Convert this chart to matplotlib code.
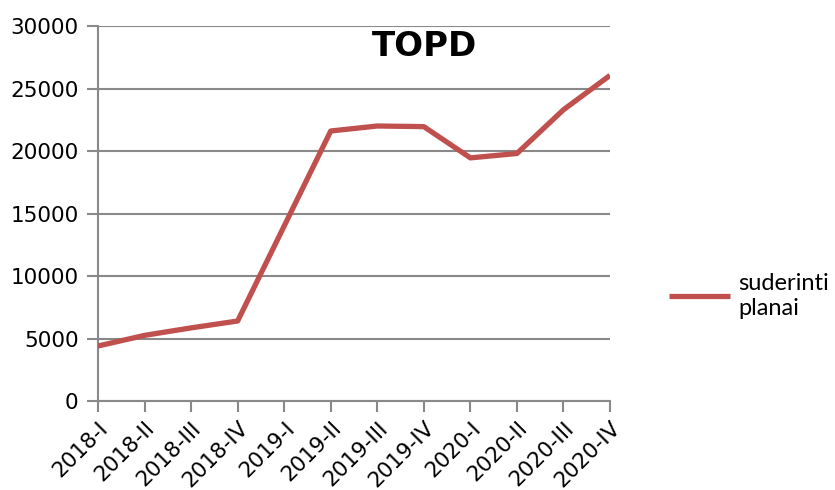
import matplotlib
matplotlib.use("Agg")
import matplotlib.pyplot as plt

categories = ["2018-I", "2018-II", "2018-III", "2018-IV", "2019-I", "2019-II",
              "2019-III", "2019-IV", "2020-I", "2020-II", "2020-III", "2020-IV"]
values = [4400, 5250, 5850, 6400, 14000, 21600, 22000, 21950, 19450, 19800, 23300, 26050]
series_name = "suderinti\nplanai"
title = "TOPD"
yticks = [0, 5000, 10000, 15000, 20000, 25000, 30000]

fig = plt.figure(figsize=(8.35, 4.9), dpi=100)
ax = fig.add_axes([98/835, 1-401/490, (610-98)/835, (401-26)/490])

grid_c = "#898989"
x = list(range(len(categories)))
ax.plot(x, values, color="#C0504D", lw=3.8, label=series_name, solid_capstyle="butt", zorder=3)

ax.set_xlim(0, len(categories)-1)
ax.set_ylim(0, 30000)
ax.set_yticks(yticks)
ax.set_yticklabels([str(v) for v in yticks], fontsize=15.5, family="DejaVu Sans")
ax.set_xticks(x)
ax.set_xticklabels(categories, rotation=45, ha="right", rotation_mode="anchor",
                   fontsize=15.5, family="DejaVu Sans")
ax.yaxis.grid(True, color=grid_c, lw=1.5)
ax.set_axisbelow(True)
for s in ["top", "right"]:
    ax.spines[s].set_visible(False)
for s in ["left", "bottom"]:
    ax.spines[s].set_color(grid_c)
    ax.spines[s].set_linewidth(1.5)
ax.tick_params(axis="both", length=8, width=1.5, color=grid_c, labelcolor="black")
ax.tick_params(axis="x", pad=4)
ax.tick_params(axis="y", pad=6)

ax.text(0.637, 0.945, title, transform=ax.transAxes, ha="center", va="center",
        fontsize=24.5, fontweight="bold", family="DejaVu Sans")

leg = fig.legend(loc="center left", bbox_to_anchor=(669/835, 1-296/490), frameon=False,
                 prop={"family": "Lato", "size": 17}, handlelength=2.6, handletextpad=0.35,
                 borderaxespad=0, borderpad=0, labelspacing=0.2)

fig.savefig("out.png", dpi=100)
